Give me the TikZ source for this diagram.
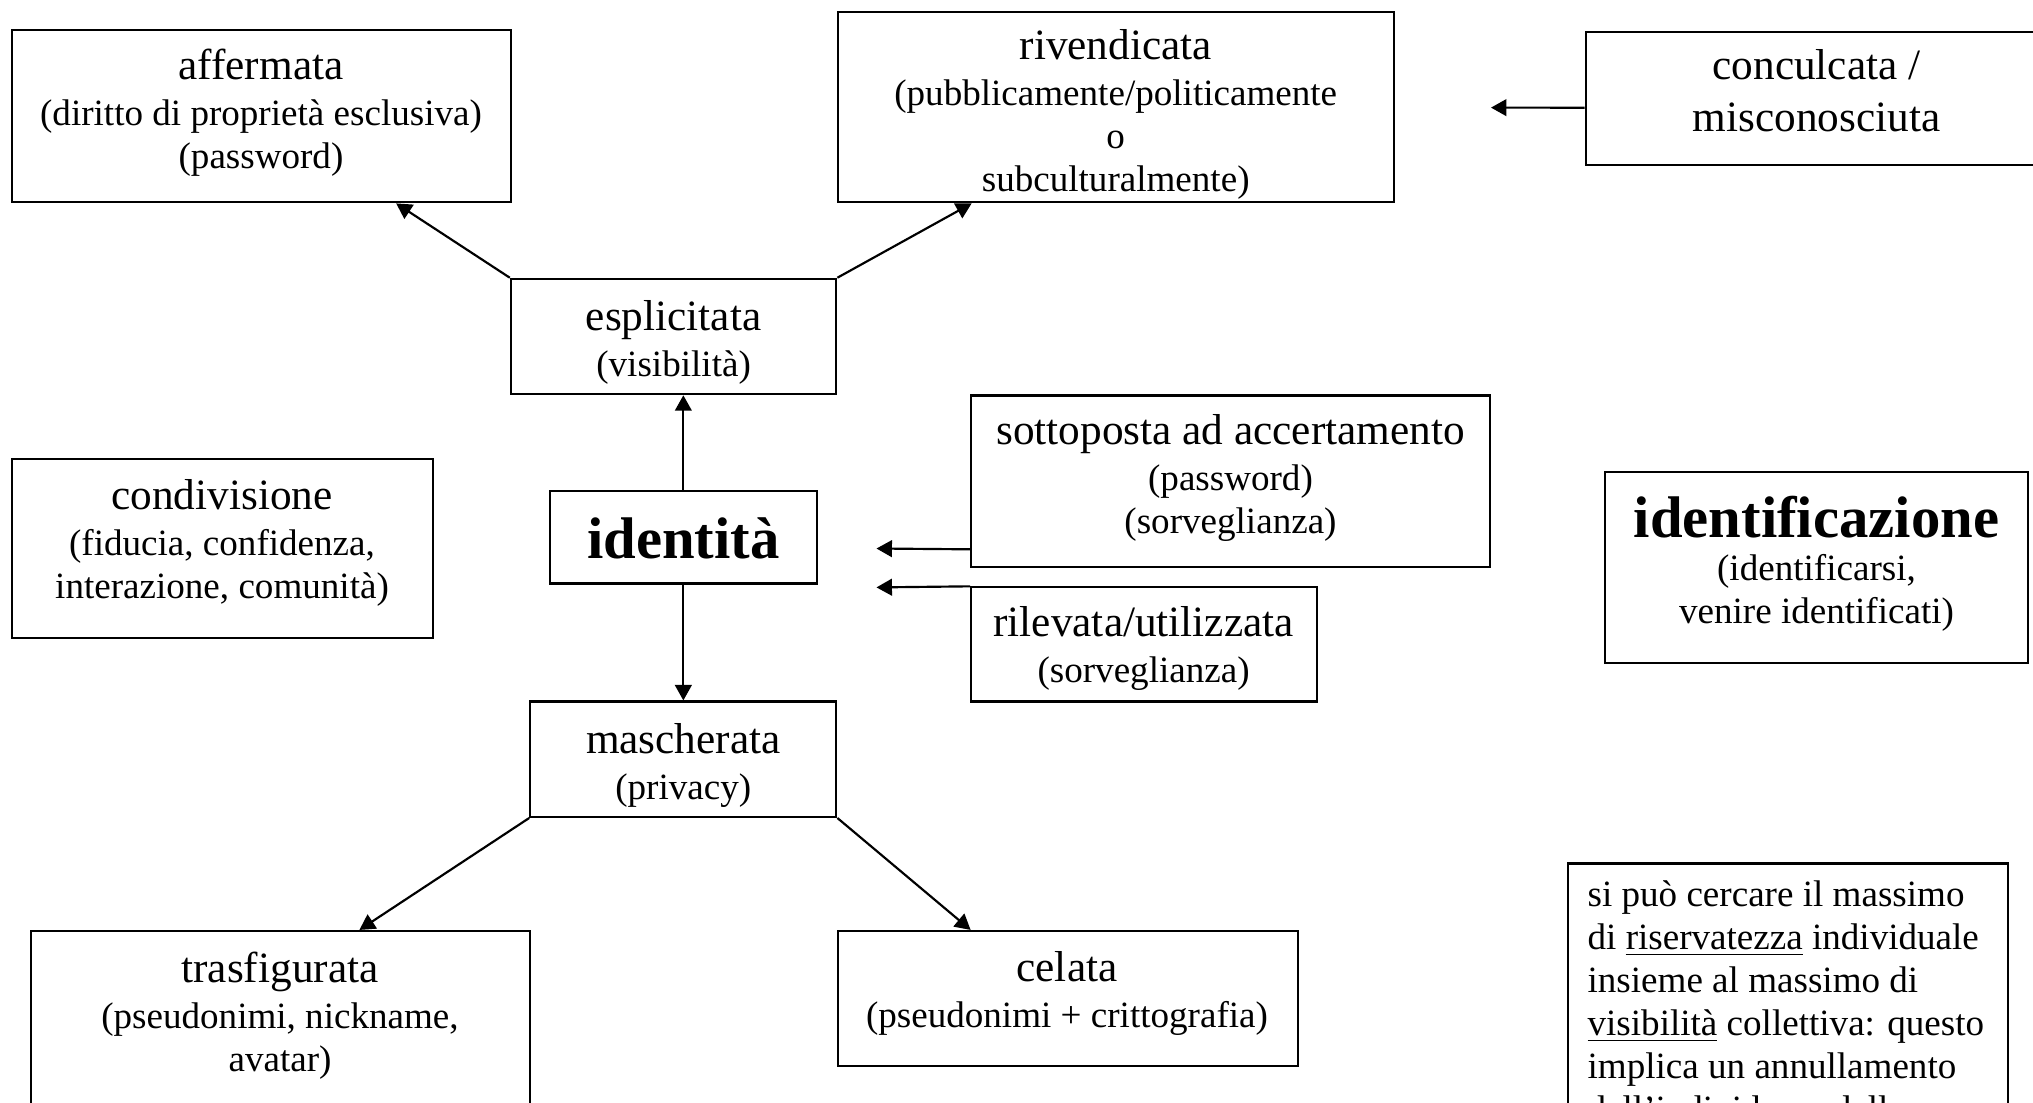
\documentclass[tikz,border=0pt]{standalone}
\usepackage{fontspec}
\setmainfont{Liberation Serif}
\usetikzlibrary{arrows.meta,fit,calc}
\newcommand\ttl[1]{{\fontsize{14}{15}\selectfont #1}}
\begin{document}
\begin{tikzpicture}[x=0.3236pt, y=-0.3236pt,
  box/.style={draw, line width=0.7pt, inner sep=0pt},
  txt/.style={align=center, font=\fontsize{12}{13.9}\selectfont, inner sep=0pt},
  arr/.style={-{Triangle[length=5pt,width=5.4pt]}, line width=0.7pt}]
\useasboundingbox (0,0) rectangle (2033,1102);
\fill[white] (0,0) rectangle (2033,1102);
\clip (0,0) rectangle (2033,1102);

\node[box, fit={(11.7,29.8) (510.9,202.3)}] (aff) {};
\node[txt] (afft) at (261,112.6) {\ttl{affermata}\\[1pt](diritto di proprietà esclusiva)\\(password)};

\node[box, fit={(837.6,11.7) (1393.8,202.3)}] (riv) {};
\node[txt] (rivt) at (1115.7,114.5) {\ttl{rivendicata}\\[1pt](pubblicamente/politicamente\\o\\subculturalmente)};

\node[box, fit={(1585.7,32.4) (2100,164.7)}] (conc) {};
\node[txt, font=\fontsize{14}{16.8}\selectfont] (conct) at (1816.5,90.8) {conculcata /\\misconosciuta};

\node[box, fit={(510.9,278.8) (836.3,394.2)}] (esp) {};
\node[txt] (espt) at (673.6,342.3) {\ttl{esplicitata}\\[1pt](visibilità)};

\node[box, fit={(549.8,491.4) (816.9,583.5)}] (ide) {};
\node[txt, font=\fontsize{19}{22}\selectfont\bfseries] (idet) at (683.3,538) {identità};

\node[box, fit={(11.7,459) (433.1,637.9)}] (cond) {};
\node[txt] (condt) at (222,542.6) {\ttl{condivisione}\\[1pt](fiducia, confidenza,\\interazione, comunità)};

\node[box, fit={(971.2,395.5) (1489.8,566.6)}] (sott) {};
\node[txt] (sottt) at (1230.5,477.8) {\ttl{sottoposta ad accertamento}\\[1pt](password)\\(sorveglianza)};

\node[box, fit={(971.2,587.4) (1317.3,701.5)}] (ril) {};
\node[txt] (rilt) at (1143.6,648.5) {\ttl{rilevata/utilizzata}\\[1pt](sorveglianza)};

\node[box, fit={(1605.2,472) (2027.8,662.6)}] (idf) {};
\node[txt] (idft) at (1816.5,563.5) {{\fontsize{19}{22}\selectfont\bfseries identificazione}\\(identificarsi,\\venire identificati)};

\node[box, fit={(530.3,701.5) (836.3,816.9)}] (mas) {};
\node[txt] (mast) at (683.3,765) {\ttl{mascherata}\\[1pt](privacy)};

\node[box, fit={(31.1,931) (530.3,1200)}] (tra) {};
\node[txt] (trat) at (280,1015.5) {\ttl{trasfigurata}\\[1pt](pseudonimi, nickname,\\avatar)};

\node[box, fit={(837.6,931) (1297.9,1065.8)}] (cel) {};
\node[txt] (celt) at (1067,993.5) {\ttl{celata}\\[1pt](pseudonimi + crittografia)};

\node[box, fit={(1567.6,863.5) (2008,1200)}] (nota) {};
\node[txt, align=left, anchor=north west] (notat) at (1587,880.5) {si può cercare il massimo\\di \underline{riservatezza} individuale\\insieme al massimo di\\\underline{visibilità} collettiva: questo\\implica un annullamento\\dell'individuo e della};

\draw[arr] (esp.north west) -- ($(aff.south west)!0.769!(aff.south east)$);
\draw[arr] (esp.north east) -- ($(riv.south west)!0.242!(riv.south east)$);
\coordinate (concTip) at (1491,107.6);
\draw[arr] ($(conc.north west)!0.568!(conc.south west)$) -- (concTip);
\draw[arr] (ide.north) -- (ide.north |- esp.south);
\draw[arr] (ide.south) -- (ide.south |- mas.north);
\coordinate (sottTip) at (876.5,548.5);
\draw[arr] ($(sott.north west)!0.894!(sott.south west)$) -- (sottTip);
\coordinate (rilTip) at (876.5,587.4);
\draw[arr] (ril.north west) -- (rilTip);
\draw[arr] (mas.south west) -- ($(tra.north west)!0.657!(tra.north east)$);
\draw[arr] (mas.south east) -- ($(cel.north west)!0.290!(cel.north east)$);
\end{tikzpicture}
\end{document}
